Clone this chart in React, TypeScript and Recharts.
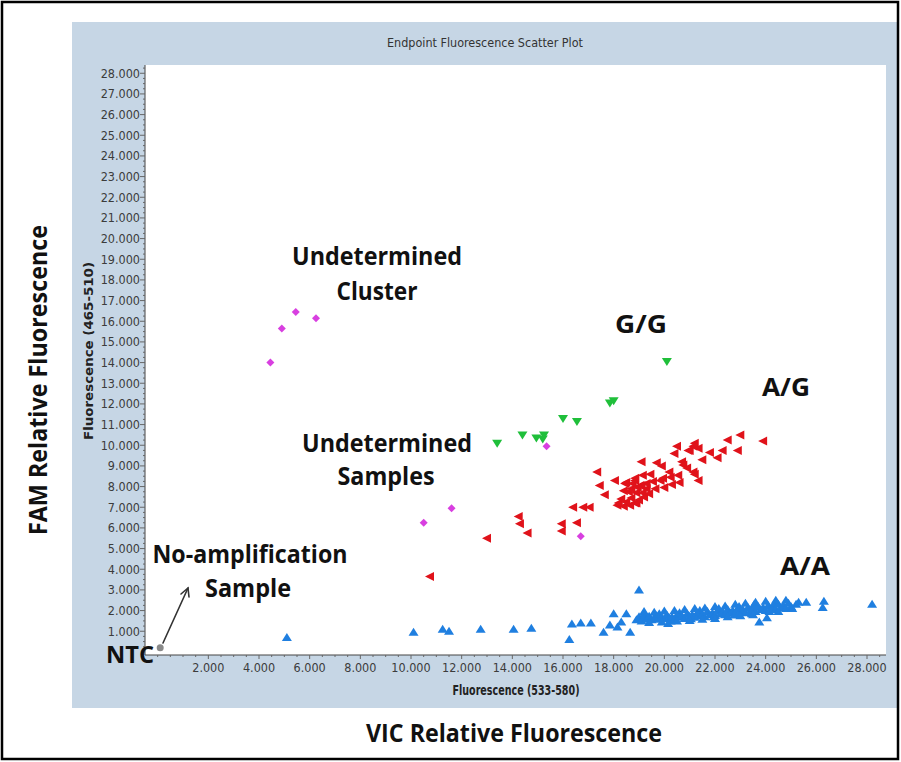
import React from "react";
import { ScatterChart, Scatter, XAxis, YAxis, CartesianGrid } from "recharts";

// values are in thousands of fluorescence units (axis shows "28.000" = 28 000)
const xLabelTicks = [2, 4, 6, 8, 10, 12, 14, 16, 18, 20, 22, 24, 26, 28];
const yLabelTicks = [
  1, 2, 3, 4, 5, 6, 7, 8, 9, 10, 11, 12, 13, 14, 15, 16, 17, 18, 19, 20, 21,
  22, 23, 24, 25, 26, 27, 28,
];

// A/A (blue, up triangles)
const aaPoints: [number, number][] = [
  [5.1, 0.7], [10.1, 0.95], [11.25, 1.1], [11.5, 1.0], [12.75, 1.1],
  [14.05, 1.1], [14.75, 1.15], [16.25, 0.6], [16.35, 1.35], [16.7, 1.4],
  [17.1, 1.4], [17.6, 0.95], [17.85, 1.3], [18.0, 1.85], [18.15, 1.2],
  [18.3, 1.45], [18.5, 1.85], [18.65, 0.95], [19.0, 3.0],
  [18.9, 1.55], [19.0, 1.7], [19.1, 1.5], [19.15, 1.62], [19.2, 1.8],
  [19.3, 1.58], [19.4, 1.72], [19.5, 1.55], [19.6, 1.65], [19.7, 1.75],
  [19.75, 1.58], [19.8, 1.85], [19.9, 1.68], [20.0, 1.6], [20.1, 1.78],
  [20.2, 1.64], [20.25, 1.5], [20.3, 1.7], [20.4, 1.58], [20.5, 1.8],
  [20.55, 1.68], [20.6, 1.9], [20.7, 1.74], [20.8, 1.62], [20.9, 1.85],
  [21.0, 1.72], [21.05, 1.6], [21.1, 1.8], [21.2, 1.68], [21.3, 1.9],
  [21.35, 1.75], [21.4, 2.0], [21.5, 1.82], [21.6, 1.7], [21.7, 1.95],
  [21.8, 1.8], [21.9, 1.88], [21.95, 1.7], [22.0, 1.76], [22.1, 2.0],
  [22.15, 2.1], [22.2, 1.84], [22.3, 1.95], [22.4, 1.8], [22.5, 2.05],
  [22.6, 1.9], [22.7, 2.0], [22.75, 1.78], [22.8, 1.86], [22.9, 2.1],
  [22.95, 2.2], [23.0, 1.95], [23.1, 2.05], [23.2, 1.9], [23.3, 2.15],
  [23.4, 2.0], [23.45, 1.85], [23.5, 2.1], [23.55, 2.3], [23.6, 1.96],
  [23.7, 2.2], [23.8, 2.05], [23.9, 2.15], [24.0, 2.0], [24.1, 2.25],
  [24.15, 1.95], [24.2, 2.1], [24.3, 2.2], [24.35, 2.35], [24.4, 2.05],
  [24.5, 2.3], [24.6, 2.15], [24.7, 2.25], [24.8, 2.1], [24.9, 2.35],
  [25.0, 2.2], [25.2, 2.3], [25.3, 2.4],
  [19.2, 1.95], [19.6, 1.92], [20.0, 1.98], [20.4, 2.0], [20.8, 2.05],
  [21.2, 2.1], [21.6, 2.12], [22.0, 2.2], [22.4, 2.22], [22.8, 2.3],
  [23.2, 2.35], [23.6, 2.4], [24.0, 2.45], [24.4, 2.5], [24.8, 2.5],
  [19.4, 1.42], [19.9, 1.45], [20.5, 1.5], [21.0, 1.52], [21.5, 1.58],
  [22.0, 1.62], [22.5, 1.7], [23.0, 1.75], [23.5, 1.8], [24.5, 1.95],
  [20.15, 1.38], [23.75, 1.45], [24.05, 1.65], [25.05, 2.1], [25.6, 2.4],
  [26.3, 2.45], [26.25, 2.15], [28.2, 2.3],
];

// A/G (red, left triangles)
const agPoints: [number, number][] = [
  [10.75, 3.65], [13.0, 5.5], [14.25, 6.55], [14.3, 6.2], [14.6, 5.75],
  [15.95, 6.2], [15.95, 5.85], [16.55, 6.25], [16.4, 7.0], [16.8, 7.0],
  [17.05, 7.0], [17.35, 8.7], [17.45, 8.05], [17.65, 7.6], [18.15, 7.1],
  [18.4, 7.05], [18.65, 7.1], [18.9, 7.2], [18.05, 8.3], [18.5, 8.2],
  [18.85, 8.3], [19.05, 8.05], [18.7, 7.9], [18.9, 7.7], [19.15, 7.7],
  [19.3, 7.9], [19.3, 8.15], [18.2, 7.2], [18.5, 7.25], [18.85, 7.2],
  [18.45, 8.15], [18.75, 8.15], [18.85, 8.4], [19.1, 8.05], [18.6, 7.75],
  [18.95, 7.95], [19.2, 7.5], [18.4, 7.8], [19.55, 8.25], [19.1, 9.2],
  [19.7, 9.15], [19.45, 8.6], [19.15, 8.55], [19.85, 8.3], [20.0, 7.95],
  [20.25, 8.45], [20.55, 8.55], [19.95, 8.4], [20.2, 8.7], [20.6, 8.2],
  [20.7, 9.2], [20.75, 9.05], [20.5, 9.95], [21.0, 9.75], [21.2, 10.1],
  [21.35, 9.85], [21.15, 9.95], [20.95, 9.75], [21.15, 8.7], [21.35, 8.3],
  [21.2, 8.6], [21.8, 9.65], [22.1, 9.4], [22.3, 9.75], [22.5, 10.25],
  [23.0, 10.5], [22.9, 9.75], [23.9, 10.2],
  [18.3, 7.4], [18.7, 7.45], [19.0, 7.35], [19.4, 7.65], [19.65, 7.9],
  [20.3, 8.1], [20.9, 8.9], [21.5, 9.3], [20.4, 9.6], [19.9, 9.0],
];

// G/G (green, down triangles)
const ggPoints: [number, number][] = [
  [13.4, 10.1], [14.4, 10.5], [14.95, 10.35], [15.25, 10.5], [15.2, 10.3],
  [16.0, 11.3], [16.55, 11.15], [17.85, 12.05], [18.0, 12.15], [20.1, 14.05],
];

// undetermined (magenta diamonds)
const undPoints: [number, number][] = [
  [4.45, 14.0], [4.9, 15.65], [5.45, 16.45], [6.25, 16.15], [10.5, 6.25],
  [11.6, 6.95], [15.35, 9.95], [16.7, 5.6],
];

const ntcPoints: [number, number][] = [[0.1, 0.2]];

const toRows = (pts: [number, number][]) => pts.map(([x, y]) => ({ x, y }));

// minor tick positions (axis config only)
const xTicks = Array.from({ length: 58 }, (_, i) => i * 0.5);
const yTicks = Array.from({ length: 114 }, (_, i) => i * 0.25);

const AXIS_FONT = "'Liberation Sans Narrow', 'DejaVu Sans Condensed', 'Liberation Sans', sans-serif";
const NOTE_FONT = "'Open Sans', 'Noto Sans', sans-serif";

const YTick = (props: any) => {
  const { x, y, payload } = props;
  const v = payload.value;
  const major = yLabelTicks.includes(v);
  return (
    <g>
      <line x1={x - (major ? 5 : 2)} x2={x} y1={y} y2={y} stroke="#666" />
      {major && (
        <text x={x - 5} y={y + 4.5} textAnchor="end" fontSize={12.5} fill="#3c3c3c" fontFamily={AXIS_FONT}>
          {`${v}.000`}
        </text>
      )}
    </g>
  );
};

const XTick = (props: any) => {
  const { x, y, payload } = props;
  const v = payload.value;
  const major = xLabelTicks.includes(v);
  return (
    <g>
      <line x1={x} x2={x} y1={y} y2={y + (major ? 4 : 2)} stroke="#666" />
      {major && (
        <text x={x} y={y + 17} textAnchor="middle" fontSize={12.5} fill="#3c3c3c" fontFamily={AXIS_FONT}>
          {`${v}.000`}
        </text>
      )}
    </g>
  );
};

const upTri = (p: any) => (
  <polygon points={`${p.cx},${p.cy - 4.5} ${p.cx + 5},${p.cy + 3.5} ${p.cx - 5},${p.cy + 3.5}`} fill="#1f7fe0" />
);
const leftTri = (p: any) => (
  <polygon points={`${p.cx - 5},${p.cy} ${p.cx + 4},${p.cy - 4.5} ${p.cx + 4},${p.cy + 4.5}`} fill="#e0121a" />
);
const downTri = (p: any) => (
  <polygon points={`${p.cx},${p.cy + 4.5} ${p.cx + 5},${p.cy - 3.5} ${p.cx - 5},${p.cy - 3.5}`} fill="#1fbf3a" />
);
const diamond = (p: any) => (
  <polygon points={`${p.cx},${p.cy - 4} ${p.cx + 4},${p.cy} ${p.cx},${p.cy + 4} ${p.cx - 4},${p.cy}`} fill="#d83fe0" />
);
const dot = (p: any) => <circle cx={p.cx} cy={p.cy} r={3.5} fill="#8a8a8a" />;

const notes = [
  { text: "Undetermined", x: 377, y: 265, w: 170, s: 25 },
  { text: "Cluster", x: 377, y: 300, w: 81, s: 25 },
  { text: "G/G", x: 641, y: 333, w: 52, s: 25 },
  { text: "A/G", x: 786, y: 396, w: 48, s: 25 },
  { text: "Undetermined", x: 387, y: 452, w: 170, s: 25 },
  { text: "Samples", x: 386, y: 485, w: 97, s: 25 },
  { text: "No-amplification", x: 250, y: 563, w: 195, s: 25 },
  { text: "Sample", x: 248, y: 597, w: 86, s: 25 },
  { text: "A/A", x: 805, y: 575, w: 50, s: 25 },
  { text: "NTC", x: 130, y: 663, w: 48, s: 23 },
];

export default function App() {
  return (
    <div style={{ position: "absolute", left: 0, top: 0, width: 901, height: 762, background: "#fff" }}>
      <div style={{ position: "absolute", left: 72, top: 22, width: 825, height: 686, background: "#c6d6e5" }} />
      <div style={{ position: "absolute", left: 72, top: 22 }}>
        <ScatterChart width={825} height={686} margin={{ top: 43, right: 11, left: 0, bottom: 23 }}>
          <CartesianGrid horizontal={false} vertical={false} fill="#ffffff" />
          <XAxis
            type="number"
            dataKey="x"
            domain={[-0.5, 28.75]}
            allowDataOverflow
            ticks={xTicks}
            interval={0}
            height={30}
            tickSize={0}
            tickMargin={0}
            tickLine={false}
            tick={<XTick />}
            axisLine={{ stroke: "#444" }}
          />
          <XAxis xAxisId="top" orientation="top" type="number" domain={[-0.5, 28.75]} height={0} tick={false} tickLine={false} axisLine={{ stroke: "#444" }} />
          <YAxis
            type="number"
            dataKey="y"
            domain={[-0.15, 28.4]}
            allowDataOverflow
            ticks={yTicks}
            interval={0}
            width={73}
            tickSize={0}
            tickMargin={0}
            tickLine={false}
            tick={<YTick />}
            axisLine={{ stroke: "#444" }}
          />
          <YAxis yAxisId="right" orientation="right" type="number" domain={[-0.15, 28.4]} width={0} tick={false} tickLine={false} axisLine={{ stroke: "#777", strokeWidth: 2 }} />
          <Scatter data={toRows(aaPoints)} shape={upTri} isAnimationActive={false} />
          <Scatter data={toRows(agPoints)} shape={leftTri} isAnimationActive={false} />
          <Scatter data={toRows(ggPoints)} shape={downTri} isAnimationActive={false} />
          <Scatter data={toRows(undPoints)} shape={diamond} isAnimationActive={false} />
          <Scatter data={toRows(ntcPoints)} shape={dot} isAnimationActive={false} />
        </ScatterChart>
      </div>
      <svg width={901} height={762} style={{ position: "absolute", left: 0, top: 0, pointerEvents: "none" }}>
        <rect x={2} y={2} width={896} height={757} fill="none" stroke="#000" strokeWidth={2.5} />
        <text x={485} y={47} textAnchor="middle" fontSize={13} fill="#333" fontFamily={AXIS_FONT} textLength={196} lengthAdjust="spacingAndGlyphs">
          Endpoint Fluorescence Scatter Plot
        </text>
        <text x={516} y={695} textAnchor="middle" fontSize={14} fontWeight="bold" fill="#222" fontFamily={AXIS_FONT} textLength={127} lengthAdjust="spacingAndGlyphs">
          Fluorescence (533-580)
        </text>
        <text transform="translate(93,351) rotate(-90)" textAnchor="middle" fontSize={12} fontWeight="bold" fill="#222" fontFamily={AXIS_FONT} textLength={178} lengthAdjust="spacingAndGlyphs">
          Fluorescence (465-510)
        </text>
        <text x={514} y={742} textAnchor="middle" fontSize={25} fontWeight="bold" fill="#111" fontFamily={NOTE_FONT} textLength={296} lengthAdjust="spacingAndGlyphs">
          VIC Relative Fluorescence
        </text>
        <text transform="translate(47,380) rotate(-90)" textAnchor="middle" fontSize={25} fontWeight="bold" fill="#111" fontFamily={NOTE_FONT} textLength={310} lengthAdjust="spacingAndGlyphs">
          FAM Relative Fluorescence
        </text>
        {notes.map((n, i) => (
          <text key={i} x={n.x} y={n.y} textAnchor="middle" fontSize={n.s} fontWeight="bold" fill="#111" fontFamily={NOTE_FONT} textLength={n.w} lengthAdjust="spacingAndGlyphs">
            {n.text}
          </text>
        ))}
        <g stroke="#333" strokeWidth={1.6} fill="none" strokeLinecap="round">
          <line x1={163} y1={643} x2={188} y2={588} />
          <polyline points="181,594 188,588 189,597" />
        </g>
      </svg>
    </div>
  );
}
